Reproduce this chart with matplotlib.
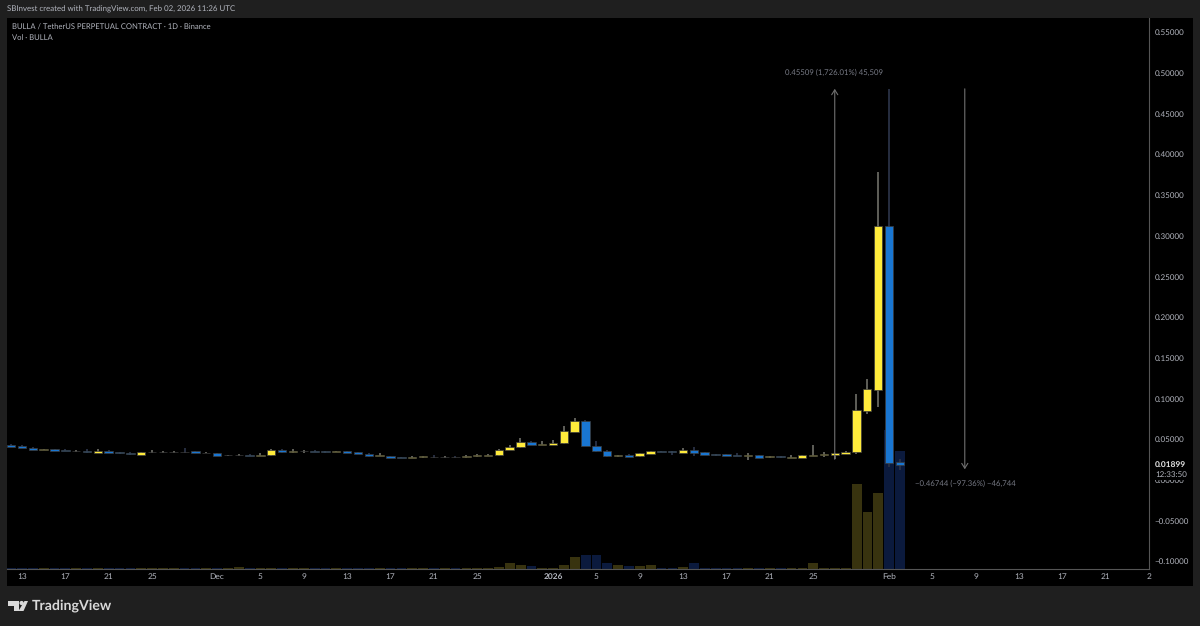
#!/usr/bin/env python3
"""BULLA / USDT perpetual daily candles, TradingView dark style"""

import matplotlib
matplotlib.use("Agg")
import matplotlib.pyplot as plt
from matplotlib.patches import Rectangle, Polygon, Circle

W, H = 1200, 626

# day index 0 = Nov 13, candles run from Nov 12 to Feb 2
days = list(range(-1, 82))

opens = [.0434, .0418, .0397, .0372, .0378, .0369, .0356, .0360, .0338, .0356, .0344, .0332,
         .0313, .0340, .0344, .0344, .0350, .0354, .0332, .0334, .0303, .0307, .0313, .0295,
         .0307, .0369, .0350, .0354, .0359, .0356, .0350, .0356, .0344, .0319, .0295, .0292,
         .0283, .0270, .0283, .0286, .0278, .0286, .0283, .0291, .0301, .0307, .0369, .0405,
         .0471, .0434, .0434, .0451, .0590, .0725, .0421, .0356, .0291, .0305, .0291, .0319,
         .0356, .0356, .0335, .0369, .0340, .0319, .0316, .0311, .0299, .0307, .0279, .0291,
         .0274, .0270, .0295, .0307, .0307, .0319, .0348, .0851, .1106, .3120, .0221]
closes = [.0409, .0397, .0372, .0382, .0360, .0356, .0362, .0340, .0356, .0337, .0332, .0316,
          .0342, .0346, .0350, .0349, .0344, .0338, .0338, .0301, .0310, .0313, .0295, .0310,
          .0369, .0340, .0356, .0360, .0350, .0350, .0356, .0338, .0319, .0291, .0303, .0274,
          .0276, .0283, .0289, .0279, .0283, .0280, .0295, .0313, .0311, .0372, .0409, .0471,
          .0430, .0442, .0458, .0602, .0725, .0421, .0356, .0295, .0307, .0286, .0332, .0353,
          .0344, .0344, .0369, .0332, .0311, .0307, .0299, .0295, .0307, .0270, .0291, .0279,
          .0283, .0307, .0311, .0319, .0332, .0350, .0860, .1118, .3120, .0209, .0190]
highs = [.0446, .0434, .0405, .0385, .0382, .0381, .0372, .0375, .0381, .0363, .0350, .0344,
         .0345, .0369, .0356, .0356, .0389, .0360, .0344, .0338, .0313, .0319, .0319, .0338,
         .0387, .0381, .0381, .0366, .0363, .0360, .0360, .0360, .0347, .0327, .0326, .0295,
         .0287, .0291, .0295, .0307, .0289, .0291, .0313, .0319, .0319, .0378, .0426, .0512,
         .0475, .0479, .0491, .0667, .0758, .0735, .0479, .0369, .0313, .0319, .0338, .0362,
         .0360, .0362, .0393, .0409, .0346, .0325, .0325, .0332, .0326, .0313, .0295, .0295,
         .0311, .0311, .0430, .0348, .0338, .0356, .1057, .1241, .3784, .4803, .0254]
lows = [.0405, .0393, .0368, .0368, .0357, .0352, .0350, .0326, .0330, .0330, .0319, .0310,
        .0307, .0332, .0338, .0338, .0338, .0332, .0326, .0298, .0295, .0301, .0291, .0291,
        .0301, .0336, .0332, .0332, .0346, .0332, .0346, .0334, .0315, .0287, .0291, .0270,
        .0272, .0266, .0276, .0272, .0272, .0274, .0276, .0285, .0295, .0301, .0365, .0389,
        .0425, .0430, .0426, .0446, .0584, .0412, .0350, .0285, .0286, .0280, .0283, .0315,
        .0340, .0303, .0330, .0299, .0307, .0301, .0295, .0291, .0246, .0266, .0270, .0270,
        .0266, .0266, .0291, .0286, .0258, .0315, .0319, .0811, .0900, .0163, .0123]
volumes = [.5, .5, .5, .5, .5, .5, .5, .5, .5, .5, .5, .5,
           .5, .5, .5, .5, .5, .5, .5, .5, 1.0, 1.2, 1.0, 1.0,
           1.0, 1.0, .5, .5, .5, .5, .5, .5, .5, .5, .5, .5,
           .5, .5, .5, .5, .5, .5, .5, .5, .5, 1.3, 5.6, 3.3,
           2.3, 1.0, 1.0, 3.3, 11.7, 13.7, 13.7, 6.0, 3.7, 2.3, 2.3, 4.0,
           1.0, 1.0, 1.3, 5.7, 1.0, 1.0, .7, .7, .7, .7, .7, .7,
           .7, .7, 6.0, 1.0, 1.0, 1.0, 85, 57, 76, 139, 118]

price_ticks = [.55, .50, .45, .40, .35, .30, .25, .20, .15, .10, .05, 0, -.05, -.10]
date_ticks = [0, 4, 8, 12, 18, 22, 26, 30, 34, 38, 42, 49, 53, 57, 61, 65, 69, 73, 80, 84, 88, 92, 96, 100, 104]
date_labels = ["13", "17", "21", "25", "Dec", "5", "9", "13", "17", "21", "25", "2026",
               "5", "9", "13", "17", "21", "25", "Feb", "5", "9", "13", "17", "21", "2"]

# long / short measure tools: day index, price from, price to
measure_up = (75, .0255, .4806)
measure_down = (87, .4806, .0132)

YELLOW = "#FFEB3B"
BLUE = "#1976D2"
VOL_UP = "#38330F"
VOL_DOWN = "#0B1A3D"
TEXT = "#B2B5BE"

plt.rcParams["font.family"] = ["Lato", "DejaVu Sans"]
plt.rcParams["text.hinting"] = "no_hinting"

fig = plt.figure(figsize=(W / 100, H / 100), dpi=100, facecolor="#1F1F1F")


def pixel_axes(zorder):
    """Transparent full figure axes measured in image pixels"""
    a = fig.add_axes([0, 0, 1, 1], zorder=zorder)
    a.set_xlim(0, W)
    a.set_ylim(H, 0)
    a.axis("off")
    return a


def y_frac(y):
    return 1 - y / H


back = pixel_axes(0)
back.add_patch(Rectangle((7, 18), 1186, 568, facecolor="black", edgecolor="none"))

pos = [7 / W, y_frac(568.5), (1149 - 7) / W, (568.5 - 18) / H]

# volume sits behind the candles on its own scale
ax_vol = fig.add_axes(pos, zorder=1, facecolor="black")
ax_vol.set_ylim(0, 550.5)
for d, o, c, v in zip(days, opens, closes, volumes):
    ax_vol.bar(d, v, width=0.9, color=VOL_UP if c >= o else VOL_DOWN, linewidth=0)
ax_vol.set_xticks([])
ax_vol.set_yticks([])
for s in ax_vol.spines.values():
    s.set_visible(False)

ax = fig.add_axes(pos, zorder=2)
ax.patch.set_visible(False)

for d, o, h, l, c in zip(days, opens, highs, lows, closes):
    up = c >= o
    ax.vlines(d, l, h, color="#666660" if up else "#2A3145", linewidth=1.3, zorder=2)
    ax.bar(d, abs(c - o), bottom=min(o, c), width=0.78, color=YELLOW if up else BLUE,
           edgecolor="#3C3C3C", linewidth=0.5, zorder=3)

arrow_style = dict(arrowstyle="->,head_length=0.35,head_width=0.22", color="#707070",
                   lw=0.8, shrinkA=0, shrinkB=0)
for day, start, end in (measure_up, measure_down):
    ax.annotate("", xy=(day, end), xytext=(day, start), arrowprops=arrow_style, zorder=4)

ax.set_xlim(-1.384, 103.97)
ax_vol.set_xlim(-1.384, 103.97)
ax.set_ylim(-0.1087, 0.5676)

ax.yaxis.tick_right()
ax.set_yticks(price_ticks)
ax.set_yticklabels([f"{p:.5f}".replace("-", "\u2212") for p in price_ticks])
ax.set_xticks(date_ticks)
ax.set_xticklabels(date_labels)
ax.tick_params(axis="y", length=0, pad=4, labelsize=5.8, labelcolor=TEXT)
ax.tick_params(axis="x", length=0, pad=3.5, labelsize=6, labelcolor=TEXT)
for lab in ax.get_xticklabels():
    if lab.get_text() == "2026":
        lab.set_fontweight("bold")
ax.spines["top"].set_visible(False)
ax.spines["left"].set_visible(False)
ax.spines["right"].set_color("#555555")
ax.spines["bottom"].set_color("#555555")

page = pixel_axes(5)
page.patch.set_visible(False)
page.text(7, 9, "SBInvest created with TradingView.com, Feb 02, 2026 11:26 UTC",
          color=TEXT, fontsize=5.65, va="center")
page.text(12, 27, "BULLA / TetherUS PERPETUAL CONTRACT \u00b7 1D \u00b7 Binance",
          color=TEXT, fontsize=5.5, va="center")
page.text(12, 38, "Vol \u00b7 BULLA", color=TEXT, fontsize=5.5, va="center")

page.text(834, 73, "0.45509 (1,726.01%) 45,509", color="#787B86", fontsize=5.6,
          ha="center", va="center")
page.text(965, 484, "\u22120.46744 (\u221297.36%) \u221246,744", color="#787B86", fontsize=5.6,
          ha="center", va="center")

# last price and countdown box hides the zero label
page.add_patch(Rectangle((1150, 458), 42, 21.5, facecolor="black", edgecolor="none"))
page.text(1155, 465, "0.01899", color="#E8E8E8", fontsize=6, fontweight="bold", va="center")
page.text(1155, 474.5, "12:33:50", color=TEXT, fontsize=5.8, va="center")

# TradingView logo
logo = "#D9D9D9"
page.add_patch(Polygon([(8, 601), (19, 601), (19, 611), (13.5, 611), (13.5, 605.5), (8, 605.5)],
                       facecolor=logo, edgecolor="none"))
page.add_patch(Circle((21.6, 603), 2.1, facecolor=logo, edgecolor="none"))
page.add_patch(Polygon([(24.5, 601), (28, 601), (23.5, 611), (18.5, 611)],
                       facecolor=logo, edgecolor="none"))
page.text(32, 606, "TradingView", color=logo, fontsize=10.2, fontweight="bold", va="center")

fig.savefig("out.png", dpi=100, facecolor=fig.get_facecolor())
plt.close(fig)
